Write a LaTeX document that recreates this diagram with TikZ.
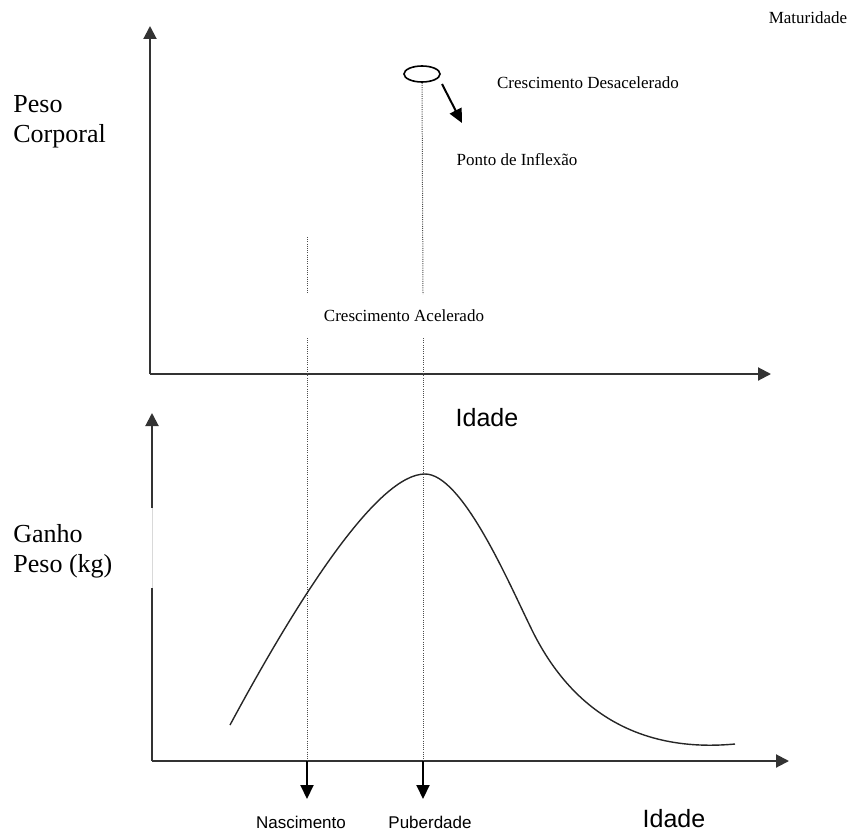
\documentclass[tikz,border=0pt]{standalone}
\usepackage{fontspec}
\setmainfont{Liberation Serif}
\setsansfont{Liberation Sans}
\usetikzlibrary{positioning,arrows.meta,shapes.geometric}

\begin{document}
\begin{tikzpicture}[x=0.5pt,y=-0.5pt,
    axis/.style={line width=1pt,black!80,-{Triangle[length=6.5pt,width=6.5pt]}},
    guide/.style={black!70,line width=0.5pt,dash pattern=on 0.5pt off 0.6pt},
    note/.style={inner sep=0pt,font=\fontsize{8.5}{10}\selectfont},
    agemark/.style={inner sep=0pt,font=\sffamily\fontsize{8.5}{10}\selectfont},
    axislabel/.style={inner sep=0pt,align=left,anchor=west,font=\fontsize{13}{15}\selectfont},
    agelabel/.style={inner sep=0pt,font=\sffamily\fontsize{12.5}{14}\selectfont}]

\useasboundingbox (0,0) rectangle (850,834);

% Axes (top)
\coordinate (orig1) at (150,374);
\coordinate (ytip1) at (150,26);
\coordinate (xtip1) at (771,374);
\draw[axis] (orig1) -- (ytip1);
\draw[axis] (orig1) -- (xtip1);

% Axes (bottom)
\coordinate (orig2) at (152,761);
\coordinate (gaplo) at (152,588);
\coordinate (gaphi) at (152,508);
\coordinate (ytip2) at (152,413);
\coordinate (xtip2) at (789,761);
\draw[line width=1pt,black!80] (orig2) -- (gaplo);
\draw[black!15,line width=0.4pt] (gaplo) -- (gaphi);
\draw[axis] (gaphi) -- (ytip2);
\draw[axis] (orig2) -- (xtip2);

% Labels
\node[axislabel] (peso) at (13,122) {Peso\\Corporal};
\node[axislabel] (ganho) at (13,551) {Ganho\\Peso (kg)};
\node[note] (matur) at (808,18) {Maturidade};
\node[note] (desac) at (588,83) {Crescimento Desacelerado};
\node[note] (ponto) at (517,160) {Ponto de Inflexão};
\node[note] (acel) at (404,316) {Crescimento Acelerado};
\node[agelabel] (idade1) at (487,418) {Idade};
\node[agelabel] (idade2) at (674,819) {Idade};

% Inflexion mark
\node[  draw,
        ellipse,
        line width=0.8pt,
        minimum width=18pt,
        minimum height=8pt,
        inner sep=0pt
    ] (infl) at (422,74) {};
\coordinate (inflA) at (442,84);
\coordinate (inflB) at (462,123);
\draw[line width=1pt,-{Triangle[length=7pt,width=6.5pt]}] (inflA) -- (inflB);

% Guides
\coordinate (nascTop) at (307,237);
\coordinate (nascMid) at (307,294);
\coordinate (nascLow) at (307,338);
\coordinate (nascAx) at (307,761);
\coordinate (pubMid) at (423,294);
\coordinate (pubLow) at (423,338);
\coordinate (pubAx) at (423,761);
\draw[guide] (nascTop) -- (nascMid);
\draw[guide] (nascLow) -- (nascAx);
\draw[guide] (infl.south) -- (pubMid);
\draw[guide] (pubLow) -- (pubAx);

% Age marks
\coordinate (nascEnd) at (307,799);
\coordinate (pubEnd) at (423,799);
\draw[line width=1pt,-{Triangle[length=7pt,width=6.5pt]}] (nascAx) -- (nascEnd);
\draw[line width=1pt,-{Triangle[length=7pt,width=6.5pt]}] (pubAx) -- (pubEnd);
\node[agemark] (nasc) at (301,822) {Nascimento};
\node[agemark] (pub) at (430,822) {Puberdade};

% Gain curve
\coordinate (gStart) at (230,725);
\coordinate (gPeak) at (425,474);
\coordinate (gFall) at (530,626);
\coordinate (gEnd) at (735,744);
\draw[line width=0.7pt,black!85] (gStart)
    .. controls (300,595) and (378,474) .. (gPeak)
    .. controls (462,474) and (508,581) .. (gFall)
    .. controls (575,721) and (650,752) .. (gEnd);

\end{tikzpicture}
\end{document}
